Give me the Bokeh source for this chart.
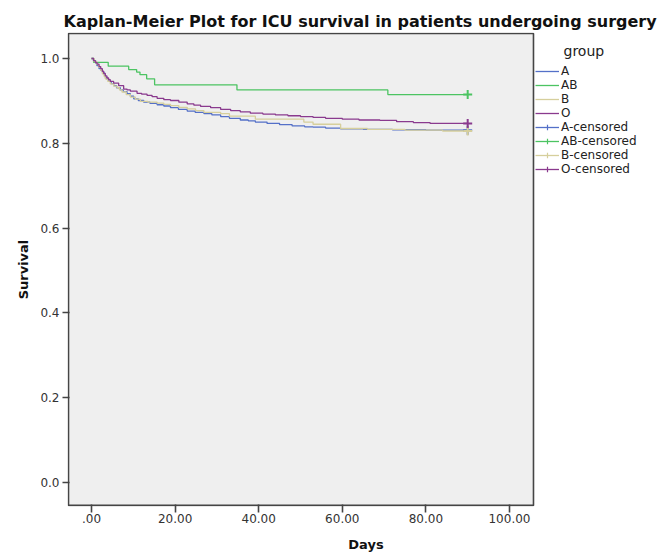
from bokeh.plotting import figure
from bokeh.models import Range1d, FixedTicker, Legend, LegendItem, Label, BoxAnnotation
from bokeh.embed import file_html
from bokeh.resources import INLINE

# ---------------- data ----------------
title_text = "Kaplan-Meier Plot for ICU survival in patients undergoing surgery"
legend_title = "group"
groups = ["A", "AB", "B", "O"]
group_colors = ["#5470c8", "#4cc462", "#d6cf9c", "#8a3a8e"]

a_days = [0, 0.5, 1.0, 1.3, 1.8, 2.2, 2.6, 3.0, 3.3, 3.7, 4.1, 4.7, 5.3, 6.0, 6.9,
          7.6, 8.5, 9.3, 10.1, 11.2, 12.5, 14.0, 15.7, 17.3, 18.9, 20.8, 22.9, 24.8,
          26.9, 28.8, 30.9, 33.0, 35.6, 37.5, 39.2, 42.0, 45.0, 48.0, 51.0, 53.0,
          56.0, 59.6, 65.0, 72.0, 80.0, 90.0]
a_surv = [1.0, 0.995, 0.989, 0.983, 0.976, 0.972, 0.968, 0.962, 0.956, 0.951, 0.946,
          0.941, 0.936, 0.931, 0.926, 0.922, 0.917, 0.911, 0.905, 0.901, 0.897, 0.894,
          0.891, 0.888, 0.884, 0.880, 0.876, 0.873, 0.870, 0.867, 0.863, 0.859, 0.855,
          0.853, 0.850, 0.847, 0.844, 0.841, 0.839, 0.838, 0.836, 0.834, 0.833, 0.832,
          0.831, 0.831]

ab_days = [0, 0.5, 4.0, 8.9, 10.8, 11.6, 13.2, 15.1, 34.8, 70.9, 90.0]
ab_surv = [1.0, 0.991, 0.982, 0.974, 0.968, 0.962, 0.952, 0.938, 0.926, 0.915, 0.915]

b_days = [0, 0.6, 1.2, 1.7, 2.2, 2.6, 3.0, 3.3, 3.9, 4.5, 5.3, 6.1, 6.7, 7.3, 8.3,
          9.3, 10.5, 11.7, 13.5, 15.7, 17.3, 18.9, 20.9, 22.9, 24.9, 26.9, 30.9, 33.0,
          39.2, 50.8, 53.0, 59.6, 66.0, 75.0, 84.0, 90.0]
b_surv = [1.0, 0.993, 0.986, 0.980, 0.972, 0.964, 0.958, 0.952, 0.946, 0.940, 0.935,
          0.931, 0.926, 0.921, 0.915, 0.909, 0.904, 0.899, 0.897, 0.895, 0.892, 0.889,
          0.885, 0.881, 0.877, 0.873, 0.870, 0.864, 0.857, 0.850, 0.845, 0.835, 0.833,
          0.831, 0.829, 0.829]

o_days = [0, 0.5, 0.9, 1.3, 1.8, 2.2, 2.6, 2.9, 3.3, 3.7, 4.1, 4.5, 5.3, 6.5, 7.7,
          8.5, 9.3, 10.9, 12.0, 13.3, 14.5, 15.7, 17.3, 18.9, 20.9, 22.9, 24.5, 26.1,
          28.5, 30.9, 33.3, 35.6, 38.0, 41.0, 44.0, 47.0, 50.0, 53.0, 56.0, 60.0, 64.0,
          69.0, 73.0, 77.0, 81.0, 90.0]
o_surv = [1.0, 0.995, 0.991, 0.987, 0.981, 0.976, 0.970, 0.965, 0.959, 0.954, 0.950,
          0.946, 0.942, 0.936, 0.928, 0.926, 0.923, 0.918, 0.916, 0.913, 0.910, 0.906,
          0.903, 0.901, 0.897, 0.893, 0.890, 0.887, 0.884, 0.880, 0.877, 0.874, 0.871,
          0.869, 0.867, 0.865, 0.863, 0.861, 0.859, 0.857, 0.855, 0.854, 0.851, 0.849,
          0.847, 0.847]

censor_days = [90.0]

x_ticks = [0, 20, 40, 60, 80, 100]
x_tick_labels = [".00", "20.00", "40.00", "60.00", "80.00", "100.00"]
y_ticks = [0.0, 0.2, 0.4, 0.6, 0.8, 1.0]
y_tick_labels = ["0.0", "0.2", "0.4", "0.6", "0.8", "1.0"]

series_days = [a_days, ab_days, b_days, o_days]
series_surv = [a_surv, ab_surv, b_surv, o_surv]

# ---------------- layout constants ----------------
W, H = 664, 554
box_x = (-5.5, 105.74)          # data extent of the grey plotting box
box_y = (-0.054, 1.059)
px_per_day = 4.18
px_per_unit = 424.0
gap = 1.0                        # frame sits 1px outside the box (left/top/bottom)
frame_left, frame_top, frame_bottom = 67, 32, 506
frame_right = W

x_start = box_x[0] - gap / px_per_day
x_end = x_start + (frame_right - frame_left) / px_per_day
y_end = box_y[1] + gap / px_per_unit
y_start = y_end - (frame_bottom - frame_top) / px_per_unit

p = figure(width=W, height=H,
           x_range=Range1d(x_start, x_end), y_range=Range1d(y_start, y_end),
           output_backend="svg", toolbar_location=None,
           min_border_left=frame_left, min_border_right=0,
           min_border_top=frame_top, min_border_bottom=H - frame_bottom)

p.background_fill_color = "white"
p.border_fill_color = "white"
p.outline_line_color = None
p.xgrid.visible = False
p.ygrid.visible = False

p.add_layout(BoxAnnotation(left=box_x[0], right=box_x[1], bottom=box_y[0], top=box_y[1],
                           fill_color="#efefef", fill_alpha=1.0,
                           line_color="#454545", line_alpha=1.0, line_width=1.6,
                           level="underlay"))

p.title.text = title_text
p.title.align = "left"
p.title.offset = -4
p.title.text_font = "DejaVu Sans"
p.title.text_font_size = "16px"
p.title.text_font_style = "bold"
p.title.text_color = "#111111"
p.title.standoff = 3

for ax in (p.xaxis[0], p.yaxis[0]):
    ax.axis_line_color = None
    ax.major_tick_line_color = "#454545"
    ax.major_tick_line_width = 1.6
    ax.major_tick_in = 2
    ax.minor_tick_line_color = None
    ax.major_label_text_font = "DejaVu Sans"
    ax.major_label_text_font_size = "12px"
    ax.major_label_text_color = "#333333"
    ax.axis_label_text_font = "DejaVu Sans"
    ax.axis_label_text_font_size = "13px"
    ax.axis_label_text_font_style = "bold"
    ax.axis_label_text_color = "#111111"

p.xaxis.ticker = FixedTicker(ticks=x_ticks)
p.xaxis.major_label_overrides = dict(zip(x_ticks, x_tick_labels))
p.xaxis.major_tick_out = 6
p.xaxis.major_label_standoff = 1
p.xaxis.axis_label = "Days"
p.xaxis.axis_label_standoff = 11

p.yaxis.ticker = FixedTicker(ticks=y_ticks)
p.yaxis.major_label_overrides = dict(zip(y_ticks, y_tick_labels))
p.yaxis.major_tick_out = 5
p.yaxis.major_label_standoff = 3
p.yaxis.axis_label = "Survival"
p.yaxis.axis_label_standoff = 6

line_renderers = []
for days, surv, col in zip(series_days, series_surv, group_colors):
    r = p.step(days, surv, mode="after", line_color=col, line_width=1.3)
    line_renderers.append(r)

for surv, col in zip(series_surv, group_colors):
    p.scatter(censor_days, [surv[-1]] * len(censor_days), marker="cross",
              size=9, line_color=col, line_width=2)

# thin crosses used only as legend keys for the "-censored" entries (not drawn: NaN)
nan = float("nan")
legend_cross = [p.scatter([nan], [nan], marker="cross", size=9, line_color=col,
                          line_width=1.2)
                for col in group_colors]

items = [LegendItem(label=g, renderers=[r]) for g, r in zip(groups, line_renderers)]
items += [LegendItem(label=g + "-censored", renderers=[r, c])
          for g, r, c in zip(groups, line_renderers, legend_cross)]

# legend to the right of the grey box (offsets in px from the frame's bottom-left)
legend = Legend(items=items, location=(468, 330), margin=0, padding=0, spacing=0,
                glyph_width=24, glyph_height=14, label_height=14, label_standoff=2,
                label_text_font="DejaVu Sans", label_text_font_size="12px",
                label_text_color="#222222", border_line_color=None,
                background_fill_alpha=0)
p.add_layout(legend)

p.add_layout(Label(x=496, y=456, x_units="screen", y_units="screen", text=legend_title,
                   text_font="DejaVu Sans", text_font_size="14px", text_color="#222222",
                   text_baseline="middle", text_align="left"))

open("out.html", "w").write(file_html(p, INLINE))
